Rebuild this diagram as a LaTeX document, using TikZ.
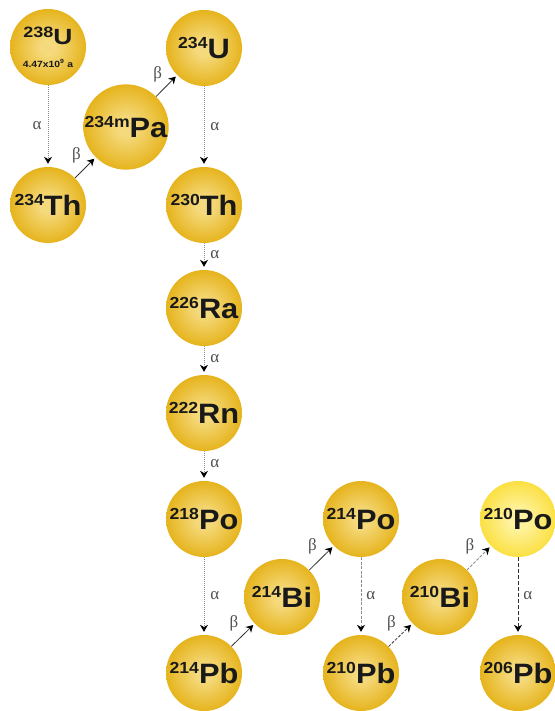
\documentclass[tikz,border=0pt]{standalone}
\usepackage{graphicx}
\usepackage{fontspec}
\setmainfont{Liberation Sans}
\newfontfamily\greekfont{Liberation Serif}
\usetikzlibrary{arrows.meta}
\definecolor{goldout}{RGB}{225,168,0}
\definecolor{goldin}{RGB}{245,218,125}
\definecolor{yelout}{RGB}{248,213,12}
\definecolor{yelin}{RGB}{255,243,160}
\definecolor{txt}{RGB}{25,25,25}
\definecolor{lgray}{RGB}{140,140,140}
\definecolor{dgray}{RGB}{50,50,50}
\definecolor{labgray}{RGB}{80,80,80}
\pgfdeclareradialshading{goldball}{\pgfpointorigin}{color(0bp)=(goldin); color(5bp)=(goldin); color(31bp)=(goldout); color(50bp)=(goldout)}
\pgfdeclareradialshading{yelball}{\pgfpointorigin}{color(0bp)=(yelin); color(6bp)=(yelin); color(36bp)=(yelout); color(50bp)=(yelout)}
\newcommand{\iso}[2]{\scalebox{1.1}[1]{\raisebox{10pt}{\fontsize{16}{16}\selectfont #1}{\fontsize{28}{28}\selectfont #2}}}
\tikzset{
  nuc/.style={circle, minimum size=76pt, inner sep=0pt, shading=goldball, text=txt, font=\bfseries},
  nucy/.style={nuc, shading=yelball},
  tipk/.style={-{Stealth[length=7pt,width=8pt,black]}},
  adecay/.style={tipk, draw=lgray, dash pattern=on 0.8pt off 1.2pt, line width=0.8pt, shorten >=3pt},
  adash/.style={tipk, draw=lgray, dash pattern=on 3pt off 1.5pt, line width=0.8pt, shorten >=3pt},
  adashd/.style={tipk, draw=dgray, dash pattern=on 4pt off 2pt, line width=0.8pt, shorten >=3pt},
  bdecay/.style={tipk, draw=dgray, line width=0.8pt, shorten >=2pt},
  bdash/.style={tipk, draw=dgray, dash pattern=on 3pt off 1.5pt, line width=0.8pt, shorten >=2pt},
  bdashl/.style={tipk, draw=lgray, dash pattern=on 3pt off 1.5pt, line width=0.8pt, shorten >=2pt},
  glab/.style={font=\greekfont\fontsize{17}{17}\selectfont, text=labgray, inner sep=0pt},
  blabel/.style={glab, midway, xshift=-9pt, yshift=12pt},
}
\begin{document}
\begin{tikzpicture}[x=1pt,y=-1pt]
\useasboundingbox (0,0) rectangle (554,711);
% nuclides
\node[nuc, align=center] (u238) at (48,47)
  {\scalebox{1.2}[1]{\raisebox{7pt}{\fontsize{15}{15}\selectfont 238}{\fontsize{22}{22}\selectfont U}}\\[11pt]
   \scalebox{1.15}[1]{\fontsize{9}{9}\selectfont 4.47x10\textsuperscript{9} a}};
\node[nuc] (th234) at (48,205) {\iso{234}{Th}};
\node[nuc] (pa234) at (126,127) {\iso{234m}{Pa}};
\node[nuc] (u234) at (204,48) {\iso{234}{U}};
\node[nuc] (th230) at (204,205) {\iso{230}{Th}};
\node[nuc] (ra226) at (204,308) {\iso{226}{Ra}};
\node[nuc] (rn222) at (204,413) {\iso{222}{Rn}};
\node[nuc] (po218) at (204,519) {\iso{218}{Po}};
\node[nuc] (pb214) at (204,673) {\iso{214}{Pb}};
\node[nuc] (bi214) at (282,597) {\iso{214}{Bi}};
\node[nuc] (po214) at (361,519) {\iso{214}{Po}};
\node[nuc] (pb210) at (361,673) {\iso{210}{Pb}};
\node[nuc] (bi210) at (440,597) {\iso{210}{Bi}};
\node[nucy] (po210) at (518,519) {\iso{210}{Po}};
\node[nuc] (pb206) at (518,673) {\iso{206}{Pb}};
% alpha decays
\draw[adecay] (u238) -- (th234) node[glab, midway, left=6pt] {α};
\draw[adecay] (u234) -- (th230) node[glab, midway, right=6pt] {α};
\draw[adecay] (th230) -- (ra226) node[glab, midway, right=6pt, yshift=2pt] {α};
\draw[adecay] (ra226) -- (rn222) node[glab, midway, right=6pt, yshift=2pt] {α};
\draw[adecay] (rn222) -- (po218) node[glab, midway, right=6pt, yshift=2pt] {α};
\draw[adecay] (po218) -- (pb214) node[glab, midway, right=6pt] {α};
\draw[adash] (po214) -- (pb210) node[glab, midway, right=5pt] {α};
\draw[adashd] (po210) -- (pb206) node[glab, midway, right=5pt] {α};
% beta decays
\draw[bdecay] (th234) -- (pa234) node[blabel] {β};
\draw[bdecay] (pa234) -- (u234) node[blabel] {β};
\draw[bdecay] (pb214) -- (bi214) node[blabel] {β};
\draw[bdecay] (bi214) -- (po214) node[blabel] {β};
\draw[bdash] (pb210) -- (bi210) node[blabel] {β};
\draw[bdashl] (bi210) -- (po210) node[blabel] {β};
\end{tikzpicture}
\end{document}
